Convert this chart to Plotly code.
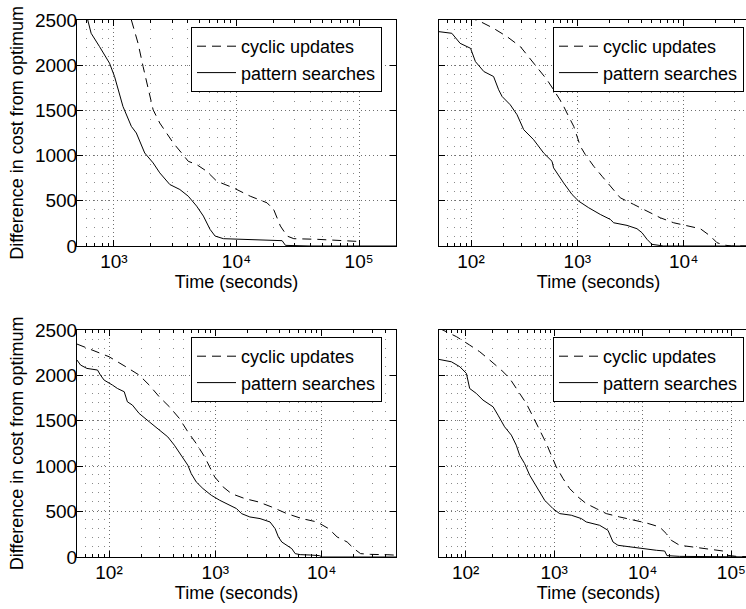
import plotly.graph_objects as go
import math

# ---------------- data ----------------
legend_names = ["cyclic updates", "pattern searches"]
y_title = "Difference in cost from optimum"
x_title = "Time (seconds)"
SUP = {"2": "\u00b2", "3": "\u00b3", "4": "\u2074", "5": "\u2075"}

# top-left panel
tl_cyc_t = [1388, 1574, 1730, 1901, 2089, 2367, 2685, 3047, 3566, 4043, 4731, 5713,
            6901, 9443, 12940, 17730, 20100, 22800, 25880, 29330, 45500, 91000, 100000]
tl_cyc_v = [2500, 2242, 1985, 1728, 1507, 1360, 1250, 1140, 1029, 937, 901, 827,
            717, 643, 551, 478, 404, 221, 110, 81, 74, 60, 50]
tl_pat_t = [612, 652, 763, 921, 1012, 1185, 1388, 1524, 1783, 2089, 2367, 2858, 3451,
            4043, 4731, 5370, 6086, 6686, 7820, 10700, 17730, 23550, 25100, 40000, 200000]
tl_pat_v = [2500, 2353, 2206, 2022, 1875, 1544, 1323, 1250, 1029, 919, 809, 680, 625,
            551, 441, 331, 184, 110, 81, 74, 66, 59, 7, 0, 0]

# top-right panel
tr_cyc_t = [50, 118, 163, 218, 291, 337, 418, 519, 598, 718, 828, 925, 993, 1067, 1189,
            1426, 1706, 2042, 2535, 3388, 4519, 6039, 8054, 10740, 14350, 17820, 20560,
            23770, 28180, 50000]
tr_cyc_v = [2620, 2492, 2408, 2316, 2206, 2114, 1985, 1838, 1728, 1581, 1434, 1323, 1213,
            1103, 1011, 882, 772, 662, 533, 460, 386, 312, 257, 221, 191, 110, 37, 11, 0, 0]
tr_pat_t = [50, 66, 79, 99, 110, 132, 163, 182, 196, 234, 271, 313, 388, 482, 578, 598,
            743, 891, 1030, 1279, 1644, 2042, 2198, 2931, 3639, 4055, 4519, 5035, 6486, 50000]
tr_pat_v = [2371, 2353, 2242, 2187, 2040, 1930, 1875, 1728, 1654, 1562, 1452, 1287, 1176,
            1029, 937, 864, 698, 570, 496, 423, 349, 294, 257, 228, 191, 147, 74, 18, 0, 0]

# bottom-left panel
bl_cyc_t = [50, 70, 100, 144, 192, 239, 297, 370, 459, 551, 661, 793, 883, 986, 1183,
            1416, 1897, 2535, 3388, 4699, 6516, 9036, 11640, 13960, 17380, 20090, 23230,
            28910, 42000, 50000]
bl_cyc_v = [2345, 2279, 2206, 2095, 2004, 1893, 1764, 1654, 1526, 1379, 1250, 1103, 992,
            882, 772, 698, 643, 607, 551, 478, 423, 386, 312, 221, 165, 92, 37, 29, 25, 20]
bl_pat_t = [50, 54, 62, 78, 83, 90, 108, 120, 139, 149, 166, 192, 239, 297, 357, 412,
            476, 551, 593, 661, 764, 916, 1099, 1368, 1581, 1762, 2113, 2630, 3266, 3648,
            3917, 4217, 4699, 5236, 5636, 6281, 7816, 9500, 10200, 50000]
bl_pat_v = [2169, 2114, 2077, 2059, 2004, 1948, 1893, 1856, 1820, 1709, 1673, 1581, 1489,
            1397, 1323, 1231, 1121, 1011, 919, 827, 754, 680, 625, 570, 533, 478, 441, 423,
            386, 312, 221, 165, 129, 92, 37, 26, 22, 15, 0, 0]

# bottom-right panel
br_cyc_t = [50, 79, 111, 144, 187, 253, 314, 407, 484, 577, 686, 815, 927, 1054, 1256,
            1493, 1854, 2301, 2985, 3873, 5483, 8414, 10960, 15490, 18450, 20990, 26060,
            36900, 52120, 67610, 80540, 91620, 113800, 200000]
br_cyc_v = [2520, 2426, 2334, 2261, 2169, 2059, 1967, 1801, 1691, 1544, 1397, 1250, 1121,
            993, 864, 754, 662, 588, 533, 478, 441, 404, 375, 331, 257, 184, 129, 110, 92,
            81, 66, 18, 7, 0]
br_pat_t = [50, 69, 86, 102, 111, 132, 157, 204, 232, 275, 328, 373, 407, 463, 528, 628,
            780, 968, 1151, 1560, 2023, 2301, 3258, 4046, 4613, 5248, 7112, 10500, 14220,
            17660, 18750, 26060, 95500, 200000]
br_pat_v = [2176, 2150, 2095, 2022, 1856, 1801, 1728, 1654, 1562, 1434, 1342, 1231, 1121,
            1029, 901, 772, 625, 533, 478, 460, 423, 386, 349, 294, 165, 129, 110, 92, 74,
            66, 15, 7, 0, 0]

# axis extents (seconds)
x_ranges = {"tl": (500, 2e5), "tr": (50, 5e4), "bl": (50, 5e4), "br": (50, 2e5)}
y_ticks = [0, 500, 1000, 1500, 2000, 2500]
y_range = (0, 2500)

# ---------------- figure ----------------
W, H = 758, 609
FONT = "Liberation Sans, Arial, Helvetica, sans-serif"

panels = [
    ("tl", "x", "y", "legend", tl_cyc_t, tl_cyc_v, tl_pat_t, tl_pat_v),
    ("tr", "x2", "y2", "legend2", tr_cyc_t, tr_cyc_v, tr_pat_t, tr_pat_v),
    ("bl", "x3", "y3", "legend3", bl_cyc_t, bl_cyc_v, bl_pat_t, bl_pat_v),
    ("br", "x4", "y4", "legend4", br_cyc_t, br_cyc_v, br_pat_t, br_pat_v),
]

fig = go.Figure()
for key, xa, ya, lg, ct, cv, pt, pv in panels:
    fig.add_trace(go.Scatter(x=ct, y=cv, mode="lines", name=legend_names[0],
                             line=dict(color="black", width=1, dash="9px,6px"),
                             xaxis=xa, yaxis=ya, legend=lg))
    fig.add_trace(go.Scatter(x=pt, y=pv, mode="lines", name=legend_names[1],
                             line=dict(color="black", width=1),
                             xaxis=xa, yaxis=ya, legend=lg))

px_x = {"tl": (77, 396), "tr": (439, 758), "bl": (77, 396), "br": (439, 758)}
px_y = {"tl": (20, 246), "tr": (20, 246), "bl": (330, 557), "br": (330, 557)}
axis_names = {"tl": ("xaxis", "yaxis"), "tr": ("xaxis2", "yaxis2"),
              "bl": ("xaxis3", "yaxis3"), "br": ("xaxis4", "yaxis4")}
anchors = {"tl": ("y", "x"), "tr": ("y2", "x2"), "bl": ("y3", "x3"), "br": ("y4", "x4")}
legend_keys = {"tl": "legend", "tr": "legend2", "bl": "legend3", "br": "legend4"}

layout = dict(
    width=W, height=H,
    margin=dict(l=0, r=0, t=0, b=0, autoexpand=False),
    paper_bgcolor="white", plot_bgcolor="white",
    font=dict(family=FONT, size=18, color="black"),
    showlegend=True,
)

for key in ["tl", "tr", "bl", "br"]:
    xn, yn = axis_names[key]
    ya_anchor, xa_anchor = anchors[key]
    lo, hi = x_ranges[key]
    decades = list(range(int(math.floor(math.log10(lo))), int(math.ceil(math.log10(hi))) + 1))
    major = [10 ** d for d in decades if lo <= 10 ** d <= hi]
    minor = [m * 10 ** d for d in decades for m in range(2, 10) if lo <= m * 10 ** d <= hi]
    x0, x1 = px_x[key]
    y0, y1 = px_y[key]
    left = key in ("tl", "bl")
    layout[xn] = dict(
        type="log", range=[math.log10(lo), math.log10(hi)],
        domain=[x0 / W, x1 / W], anchor=ya_anchor,
        tickvals=major,
        ticktext=["10" + SUP[str(int(round(math.log10(v))))] for v in major],
        ticks="inside", ticklen=6, tickcolor="black", tickwidth=1,
        showline=True, linecolor="black", linewidth=1, mirror="ticks",
        showgrid=True, gridcolor="#6e6e6e", gridwidth=1, griddash="1px,3px",
        minor=dict(tickvals=minor, ticks="inside", ticklen=3, tickcolor="black",
                   showgrid=True, gridcolor="#8a8a8a", gridwidth=1, griddash="1px,8px"),
        tickfont=dict(size=19), automargin=False, ticklabelstandoff=-2,
        title=dict(text=x_title, font=dict(size=18), standoff=4),
        zeroline=False,
    )
    ydict = dict(
        range=list(y_range), domain=[1 - y1 / H, 1 - y0 / H], anchor=xa_anchor,
        tickvals=y_ticks, showticklabels=left,
        ticks="inside", ticklen=6, tickcolor="black", tickwidth=1,
        showline=True, linecolor="black", linewidth=1, mirror="ticks",
        showgrid=True, gridcolor="#6e6e6e", gridwidth=1, griddash="1px,3px",
        tickfont=dict(size=19), automargin=False, zeroline=False, ticklabelstandoff=-5,
    )
    if left:
        ydict["title"] = dict(text=y_title, font=dict(size=18), standoff=6)
    layout[yn] = ydict
    layout[legend_keys[key]] = dict(
        x=(x1 - 14) / W, xanchor="right", y=1 - (y0 + 7) / H, yanchor="top",
        bgcolor="white", bordercolor="black", borderwidth=1,
        font=dict(size=18, family=FONT), tracegroupgap=0, itemwidth=39,
    )

fig.update_layout(**layout)

fig.write_html(
    "out.html",
    config={"displayModeBar": False},
    post_script="document.documentElement.style.overflow='hidden';"
                "document.body.style.overflow='hidden';document.body.style.margin='0';",
)
